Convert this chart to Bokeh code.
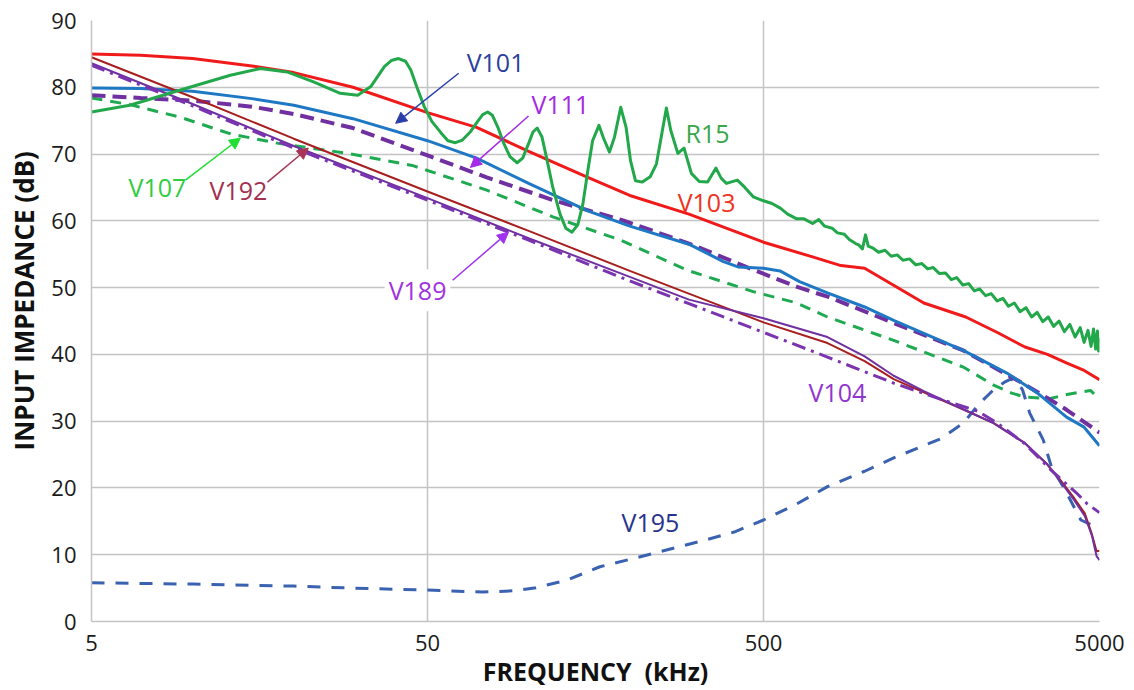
from bokeh.plotting import figure
from bokeh.models import (Range1d, FixedTicker, PrintfTickFormatter, Label,
                          Arrow, NormalHead)
from bokeh.embed import file_html
from bokeh.resources import INLINE

# ---- measured input impedance, frequency in kHz, level in dB ----
r15_f = [5, 6.5, 9.2, 12.95, 15.9, 19.1, 22.9, 27.5, 31.0, 33.9, 37.2, 39.0, 41.0,
         43.0, 44.6, 46.5, 48.9, 51.5, 54.8, 57.5, 60.5, 63.5, 67, 70.5, 73, 75.5,
         78, 81, 84, 88, 92.4, 96, 100, 103, 106, 109.5, 113, 118, 124, 129, 134.6,
         140, 145, 150, 155, 161.9, 167, 174, 180, 188, 195, 201, 208, 218, 230,
         240, 249, 257, 265, 278, 290, 305, 322, 341, 361, 374, 388, 418, 440, 466,
         500, 530, 561, 590, 628, 660, 700, 730, 760, 800, 830, 870, 900, 940,
         960, 985, 1006, 1025, 1060, 1100, 1150, 1200, 1250, 1300, 1360, 1420,
         1480, 1540, 1600, 1670, 1740, 1810, 1880, 1960, 2040, 2120, 2200, 2290,
         2380, 2480, 2580, 2680, 2790, 2900, 3020, 3140, 3260, 3390, 3520, 3650,
         3790, 3930, 4080, 4230, 4380, 4500, 4620, 4720, 4800, 4870, 4930, 4970,
         5000]
r15_db = [76.3, 77.3, 79.6, 81.8, 82.8, 82.3, 80.8, 79.1, 78.8, 80.1, 83.1, 84.0, 84.3,
          83.9, 82.6, 80.0, 77.1, 74.9, 73.2, 72.0, 71.7, 72.1, 73.3, 74.9, 75.9, 76.3,
          75.8, 74.0, 71.8, 69.6, 68.7, 69.4, 71.6, 73.3, 73.9, 72.6, 69.5, 65.0, 61.0, 58.9, 58.3,
          59.4, 62.5, 67.5, 72.0, 74.3, 72.4, 70.3, 72.5, 77.0, 74.0, 69.0, 66.0, 65.8, 66.6,
          68.5, 73.0, 76.9, 73.5, 70.1, 70.9, 67.1, 65.9, 65.8, 67.9, 66.4, 65.6, 66.1, 65.0, 63.6,
          63.0, 62.6, 61.9, 61.0, 60.3, 60.3, 59.6, 60.2, 59.2, 58.9, 58.2, 58.0, 57.2, 56.6,
          56.4, 55.8, 57.9, 56.2, 55.9, 55.3, 55.6, 54.7, 54.9, 54.1, 54.3, 53.4,
          53.6, 52.8, 53.0, 52.1, 52.2, 51.2, 51.5, 50.4, 50.6, 49.5, 49.8, 48.8,
          49.1, 48.0, 48.4, 47.2, 47.7, 46.4, 47.0, 45.6, 46.3, 44.9, 45.6, 44.2,
          45.0, 43.4, 44.5, 42.6, 44.0, 41.8, 43.6, 41.2, 43.8, 40.8, 43.5, 40.5,
          42.5]

v103_f = [5, 7, 10, 15, 20, 30, 50, 70, 100, 150, 200, 300, 500, 700, 850, 1000,
          1500, 2000, 2500, 3000, 3500, 4000, 4500, 5000]
v103_db = [85.0, 84.8, 84.3, 83.2, 82.2, 80.0, 76.2, 74.0, 70.4, 66.5, 63.8, 61.0,
           56.8, 54.6, 53.3, 52.9, 47.7, 45.6, 43.2, 41.1, 40.0, 38.7, 37.6, 36.2]

v101_f = [5, 7, 10, 15, 20, 30, 50, 70, 100, 150, 200, 300, 380, 420, 500, 560,
          640, 775, 1000, 1220, 1965, 2650, 3270, 3990, 4500, 5000]
v101_db = [79.9, 79.8, 79.4, 78.3, 77.3, 75.3, 72.0, 69.4, 65.6, 61.5, 59.2, 56.5,
           53.9, 53.1, 52.9, 52.5, 50.9, 49.2, 47.1, 45.1, 40.6, 37.2, 34.2, 30.6,
           29.1, 26.3]

v111_f = [5, 7, 10, 15, 20, 30, 50, 75, 120, 190, 300, 380, 470, 630, 780, 1220,
          1965, 2900, 3570, 3990, 5000]
v111_db = [78.8, 78.4, 78.0, 77.1, 76.0, 73.9, 69.8, 66.5, 63.0, 60.1, 56.6, 54.5,
           52.6, 50.1, 48.6, 44.7, 40.6, 35.9, 33.2, 31.7, 28.3]

v107_f = [5, 6.5, 9.2, 13, 18, 29, 45, 61, 75, 118, 188, 297, 466, 628, 775, 1220,
          1965, 2420, 2740, 3000, 3570, 4000, 4450, 4700, 5000]
v107_db = [78.4, 77.4, 75.5, 73.0, 71.6, 70.1, 68.3, 66.1, 64.6, 60.6, 57.1, 52.6,
           49.4, 47.7, 45.6, 42.1, 38.1, 35.4, 34.2, 33.6, 33.4, 34.0, 34.4, 34.6, 33.3]

v192_f = [5, 10, 20, 50, 100, 200, 500, 775, 1000, 1220, 1500, 2000, 2420, 3000,
          3500, 3820, 4200, 4520, 4750, 4900, 5000]
v192_db = [84.5, 78.5, 72.3, 64.4, 58.5, 52.5, 44.8, 41.7, 39.0, 36.3, 34.3, 31.6,
           29.7, 26.7, 23.5, 21.2, 18.5, 16.2, 13.0, 10.5, 10.6]

v104_f = [5, 10, 20, 50, 100, 200, 300, 500, 775, 1000, 1220, 1500, 2000, 2420,
          3000, 3500, 3820, 4200, 4520, 4750, 4900, 5000]
v104_db = [83.6, 77.5, 71.2, 63.4, 57.4, 51.6, 48.2, 45.4, 42.6, 39.7, 36.8, 34.5,
           31.6, 29.7, 26.7, 23.5, 21.0, 18.2, 15.8, 12.8, 9.8, 9.2]

v189_f = [5, 10, 20, 50, 100, 200, 300, 500, 775, 1220, 1700, 2170, 2500, 3000,
          3600, 4000, 4300, 4600, 5000]
v189_db = [83.3, 77.2, 70.9, 63.1, 57.1, 51.0, 47.6, 43.3, 39.6, 35.7, 33.2, 31.5,
           29.6, 26.6, 22.6, 20.5, 19.1, 17.6, 16.3]

v195_f = [5, 10, 20, 30, 50, 73, 90, 104, 130, 163, 200, 257, 330, 409, 500, 628,
          775, 1000, 1220, 1690, 1965, 2200, 2420, 2600, 2720, 2850, 2950, 3100,
          3400, 3600, 3900, 4400, 4850, 5000]
v195_db = [5.8, 5.6, 5.3, 5.0, 4.7, 4.4, 4.6, 5.0, 6.2, 8.2, 9.3, 10.7, 12.1, 13.4,
           15.2, 17.6, 20.2, 22.5, 24.5, 27.4, 29.7, 32.7, 34.7, 35.8, 36.3, 35.8,
           34.7, 31.2, 27.2, 23.1, 20.2, 15.2, 14.2, 14.0]

x_ticks = [5, 50, 500, 5000]
y_ticks = [0, 10, 20, 30, 40, 50, 60, 70, 80, 90]

TICK_FONT = "Open Sans"
GRID = "#c4c4c4"
NBSP = "\u00a0"

p = figure(width=1134, height=690, x_axis_type="log",
           x_range=Range1d(5, 5000), y_range=Range1d(0, 90),
           output_backend="svg", toolbar_location=None,
           min_border_left=91, min_border_right=35,
           min_border_top=20, min_border_bottom=68)
p.outline_line_color = None
p.background_fill_color = "white"
p.border_fill_color = "white"

p.xaxis.ticker = FixedTicker(ticks=x_ticks, minor_ticks=[])
p.yaxis.ticker = FixedTicker(ticks=y_ticks, minor_ticks=[])
p.xaxis.formatter = PrintfTickFormatter(format="%d")

for ax in (p.xaxis, p.yaxis):
    ax.axis_line_color = GRID
    ax.axis_line_width = 1.5
    ax.major_tick_line_color = None
    ax.minor_tick_line_color = None
    ax.major_label_text_font = TICK_FONT
    ax.major_label_text_font_size = "22px"
    ax.major_label_text_color = "#1a1a1a"
    ax.axis_label_text_font = TICK_FONT
    ax.axis_label_text_font_style = "bold"
    ax.axis_label_text_color = "#111111"

p.xaxis.axis_label_text_font_size = "25px"
p.yaxis.axis_label_text_font_size = "26px"
p.xaxis.axis_label = "FREQUENCY" + NBSP * 2 + "(kHz)"
# leading spaces lift the rotated title a little above the frame centre
p.yaxis.axis_label = NBSP * 6 + "INPUT IMPEDANCE (dB)"
p.xaxis.major_label_standoff = 7
p.yaxis.major_label_standoff = 9
p.xaxis.axis_label_standoff = 0
p.yaxis.axis_label_standoff = 6

p.xgrid.grid_line_color = GRID
p.ygrid.grid_line_color = GRID
p.xgrid.grid_line_width = 1.5
p.ygrid.grid_line_width = 1.5

# ---- curves ----
p.line(v195_f, v195_db, line_color="#3a62b0", line_width=3, line_dash="13 11")
p.line(v107_f, v107_db, line_color="#1faa52", line_width=3, line_dash="11 8")
p.line(v111_f, v111_db, line_color="#7030a0", line_width=4, line_dash="14 7")
p.line(v101_f, v101_db, line_color="#1f78c4", line_width=3)
p.line(v103_f, v103_db, line_color="#f01a1a", line_width=3)
p.line(v192_f, v192_db, line_color="#a81e1e", line_width=2)
p.line(v104_f, v104_db, line_color="#7030a0", line_width=2)
p.line(v189_f, v189_db, line_color="#7a34b0", line_width=3, line_dash="14 6 3 6")
p.line(r15_f, r15_db, line_color="#22a84a", line_width=3, line_join="round")

# ---- curve names and pointers ----
LABEL_FONT = "Open Sans"
names = [
    ("V101", 79.7, 83.8, "#2b3f9e"),
    ("V111", 124.4, 77.5, "#a52ae0"),
    ("R15", 340.7, 73.1, "#3aa64a"),
    ("V103", 338.4, 62.8, "#ee3322"),
    ("V107", 7.86, 65.0, "#2fcc40"),
    ("V192", 13.69, 64.6, "#a33050"),
    ("V189", 46.7, 49.6, "#a033e0"),
    ("V104", 830.0, 34.4, "#9035d0"),
    ("V195", 230.5, 14.9, "#28338c"),
]
for txt, fx, dy, col in names:
    lab = Label(x=fx, y=dy, text=txt, text_color=col, text_font=LABEL_FONT,
                text_font_size="25px", text_align="center",
                text_baseline="middle")
    if txt == "V189":
        lab.background_fill_color = "white"
        lab.padding = 4
    p.add_layout(lab)

pointers = [
    (61.9, 82.1, 40.2, 74.6, "#2a3fa8"),
    (99.9, 75.7, 67.1, 68.0, "#a52ae8"),
    (9.52, 66.1, 13.88, 72.4, "#22dd33"),
    (16.7, 65.8, 22.1, 70.9, "#a83555"),
    (59.4, 51.1, 87.1, 58.3, "#a033f0"),
]
for xs, ys, xe, ye, col in pointers:
    p.add_layout(Arrow(x_start=xs, y_start=ys, x_end=xe, y_end=ye,
                       line_color=col, line_width=1.5,
                       end=NormalHead(size=11, fill_color=col, line_color=col)))

open("out.html", "w").write(file_html(p, INLINE))
